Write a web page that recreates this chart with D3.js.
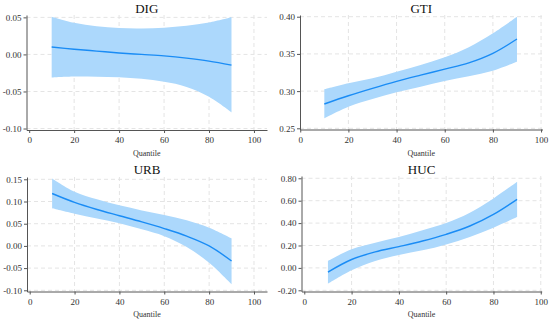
<!DOCTYPE html>
<html lang="en">
<head>
    <meta charset="utf-8">
    <title>Quantile coefficients</title>
    <script type="text/javascript" src="https://d3js.org/d3.v7.min.js"></script>
    <style>
        body { margin: 0; background: #fff; }
        text { font-family: "Liberation Serif", "Times New Roman", serif; font-weight: 400; }
    </style>
</head>
<body>
    <div id="chart"></div>

    <script type="text/javascript">

        // Quantiles at which the coefficients were estimated
        var quantiles = [10, 20, 30, 40, 50, 60, 70, 80, 90];
        var xTicks = [0, 20, 40, 60, 80, 100];

        // DIG
        var digEst = [0.010, 0.007, 0.0045, 0.002, 0.000, -0.002, -0.005, -0.009, -0.0145];
        var digLow = [-0.031, -0.0297, -0.030, -0.0307, -0.033, -0.037, -0.0438, -0.057, -0.078];
        var digHigh = [0.051, 0.0427, 0.038, 0.0355, 0.035, 0.036, 0.0386, 0.043, 0.050];
        var digTicks = [-0.10, -0.05, 0.00, 0.05];

        // GTI
        var gtiEst = [0.2827, 0.2938, 0.3037, 0.313, 0.3214, 0.3295, 0.338, 0.3508, 0.370];
        var gtiLow = [0.2634, 0.279, 0.2894, 0.2984, 0.306, 0.3136, 0.320, 0.3274, 0.3395];
        var gtiHigh = [0.3024, 0.3105, 0.3172, 0.326, 0.335, 0.3454, 0.3589, 0.3777, 0.400];
        var gtiTicks = [0.25, 0.30, 0.35, 0.40];

        // URB
        var urbEst = [0.118, 0.098, 0.082, 0.068, 0.054, 0.039, 0.022, 0.000, -0.034];
        var urbLow = [0.0847, 0.0726, 0.062, 0.051, 0.0374, 0.022, -0.0025, -0.038, -0.0865];
        var urbHigh = [0.152, 0.122, 0.105, 0.0914, 0.080, 0.0696, 0.0577, 0.041, 0.017];
        var urbTicks = [-0.10, -0.05, 0.00, 0.05, 0.10, 0.15];

        // HUC
        var hucEst = [-0.037, 0.075, 0.143, 0.19, 0.24, 0.30, 0.374, 0.478, 0.6125];
        var hucLow = [-0.141, -0.021, 0.062, 0.115, 0.157, 0.21, 0.276, 0.359, 0.454];
        var hucHigh = [0.062, 0.166, 0.225, 0.276, 0.336, 0.40, 0.493, 0.62, 0.77];
        var hucTicks = [-0.20, 0.00, 0.20, 0.40, 0.60, 0.80];

        var width = 550, height = 322;
        var bandColor = "#acd8fc";
        var lineColor = "#1a8cf5";
        var axisColor = "#555";
        var gridColor = "#e4e4e4";

        // one entry per panel: cell offset, plot box inside the cell, domains
        var panels = [
            { title: "DIG", est: digEst, low: digLow, high: digHigh, yTicks: digTicks,
              ox: 0, oy: 0, left: 26.5, right: 267, top: 15, bottom: 130,
              xDomain: [-1.2, 105.8], yDomain: [-0.102, 0.0532] },
            { title: "GTI", est: gtiEst, low: gtiLow, high: gtiHigh, yTicks: gtiTicks,
              ox: 275, oy: 0, left: 25, right: 267.5, top: 15, bottom: 129.5,
              xDomain: [-0.1, 100.6], yDomain: [0.2484, 0.4023] },
            { title: "URB", est: urbEst, low: urbLow, high: urbHigh, yTicks: urbTicks,
              ox: 0, oy: 161, left: 27, right: 267, top: 16, bottom: 130.5,
              xDomain: [-1.2, 105.8], yDomain: [-0.1027, 0.1552] },
            { title: "HUC", est: hucEst, low: hucLow, high: hucHigh, yTicks: hucTicks,
              ox: 275, oy: 161, left: 26.5, right: 266.7, top: 15, bottom: 130.5,
              xDomain: [-1.18, 100.4], yDomain: [-0.2107, 0.8205] }
        ];

        var svg = d3.select("#chart").append("svg")
            .attr("width", width)
            .attr("height", height);

        panels.forEach(function(p) {
            var g = svg.append("g")
                .attr("transform", "translate(" + p.ox + "," + p.oy + ")");

            var x = d3.scaleLinear().domain(p.xDomain).range([p.left, p.right]);
            var y = d3.scaleLinear().domain(p.yDomain).range([p.bottom, p.top]);

            var rows = quantiles.map(function(q, i) {
                return { q: q, est: p.est[i], low: p.low[i], high: p.high[i] };
            });

            // dashed grid
            g.append("g").selectAll("line")
                .data(p.yTicks)
                .enter().append("line")
                .attr("x1", p.left).attr("x2", p.right)
                .attr("y1", function(d) { return y(d); })
                .attr("y2", function(d) { return y(d); })
                .attr("stroke", gridColor)
                .attr("stroke-dasharray", "4,3");

            g.append("g").selectAll("line")
                .data(xTicks.filter(function(d) { return d > 0; }))
                .enter().append("line")
                .attr("y1", p.top).attr("y2", p.bottom)
                .attr("x1", function(d) { return x(d); })
                .attr("x2", function(d) { return x(d); })
                .attr("stroke", gridColor)
                .attr("stroke-dasharray", "4,3");

            // confidence band
            var area = d3.area()
                .x(function(d) { return x(d.q); })
                .y0(function(d) { return y(d.low); })
                .y1(function(d) { return y(d.high); })
                .curve(d3.curveCatmullRom.alpha(0.5));

            g.append("path")
                .datum(rows)
                .attr("d", area)
                .attr("fill", bandColor);

            // point estimate
            var line = d3.line()
                .x(function(d) { return x(d.q); })
                .y(function(d) { return y(d.est); })
                .curve(d3.curveCatmullRom.alpha(0.5));

            g.append("path")
                .datum(rows)
                .attr("d", line)
                .attr("fill", "none")
                .attr("stroke", lineColor)
                .attr("stroke-width", 1.4);

            // axes
            var yAxis = d3.axisLeft(y)
                .tickValues(p.yTicks)
                .tickSize(3)
                .tickPadding(2)
                .tickSizeOuter(0)
                .tickFormat(function(d) { return d.toFixed(2); });

            var xAxis = d3.axisBottom(x)
                .tickValues(xTicks)
                .tickSize(3)
                .tickPadding(4)
                .tickSizeOuter(0)
                .tickFormat(function(d) { return d; });

            var ya = g.append("g")
                .attr("transform", "translate(" + p.left + ",0)")
                .call(yAxis);
            var xa = g.append("g")
                .attr("transform", "translate(0," + p.bottom + ")")
                .call(xAxis);

            [ya, xa].forEach(function(a) {
                a.select(".domain").attr("stroke", axisColor);
                a.selectAll(".tick line").attr("stroke", axisColor);
                a.selectAll(".tick text")
                    .attr("fill", "#333")
                    .style("font-family", "'Liberation Serif', serif")
                    .style("font-size", "9px");
            });

            // title and axis label
            g.append("text")
                .attr("x", (p.left + p.right) / 2)
                .attr("y", 12.5)
                .attr("text-anchor", "middle")
                .style("font-size", "13px")
                .style("font-weight", "400")
                .attr("fill", "#111")
                .text(p.title);

            g.append("text")
                .attr("x", (p.left + p.right) / 2)
                .attr("y", 155.5)
                .attr("text-anchor", "middle")
                .style("font-size", "8px")
                .attr("fill", "#333")
                .text("Quantile");
        });

    </script>
</body>
</html>
